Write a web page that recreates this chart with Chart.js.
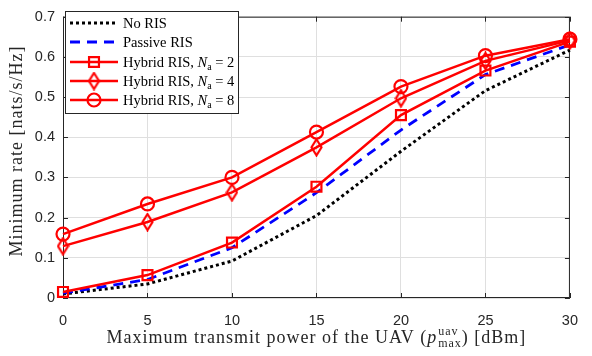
<!DOCTYPE html>
<html lang="en">
<head>
<meta charset="UTF-8">
<title>Minimum rate vs UAV power</title>
<script src="https://cdn.jsdelivr.net/npm/chart.js@4.4.1/dist/chart.umd.min.js"></script>
<style>
  html, body { margin: 0; padding: 0; background: #fff; }
  #wrap { width: 592px; height: 356px; }
</style>
</head>
<body>
<div id="wrap"><canvas id="c" width="592" height="356"></canvas></div>
<script>
// data
const powers = [0, 5, 10, 15, 20, 25, 30];
const noRis = [0.010, 0.035, 0.092, 0.205, 0.365, 0.516, 0.617];
const passiveRis = [0.012, 0.046, 0.125, 0.262, 0.418, 0.556, 0.630];
const hybridNa2 = [0.015, 0.057, 0.138, 0.277, 0.455, 0.566, 0.638];
const hybridNa4 = [0.129, 0.189, 0.263, 0.375, 0.497, 0.590, 0.641];
const hybridNa8 = [0.159, 0.234, 0.300, 0.413, 0.526, 0.603, 0.644];
const yTicks = [0, 0.1, 0.2, 0.3, 0.4, 0.5, 0.6, 0.7];
const xTicks = [0, 5, 10, 15, 20, 25, 30];
const legendNames = ['No RIS', 'Passive RIS', 'Hybrid RIS, ', 'Hybrid RIS, ', 'Hybrid RIS, '];
const naValues = [null, null, 2, 4, 8];

const RED = '#ff0000';
const SERIF = '"Liberation Serif", "DejaVu Serif", serif';
const SANS = '"Liberation Sans", Arial, sans-serif';
const AXIS = '#262626';

function pts(arr) { return powers.map((p, i) => ({ x: p, y: arr[i] })); }

// tall MATLAB-like diamond marker
function makeDiamond(w, h) {
  const c = document.createElement('canvas');
  c.width = w; c.height = h;
  const g = c.getContext('2d');
  g.strokeStyle = RED; g.lineWidth = 2.2;
  g.beginPath();
  g.moveTo(w / 2, 1.5); g.lineTo(w - 1.5, h / 2);
  g.lineTo(w / 2, h - 1.5); g.lineTo(1.5, h / 2);
  g.closePath(); g.stroke();
  return c;
}
const diamond = makeDiamond(13, 19);

// draws a list of [text, font, dy] runs, returns total width
function runs(ctx, list, x, y, measureOnly) {
  let w = 0;
  list.forEach(r => {
    ctx.font = r[1];
    if (!measureOnly) ctx.fillText(r[0], x + w, y + (r[2] || 0));
    w += ctx.measureText(r[0]).width + (r[3] || 0);
  });
  return w;
}

const boxPlugin = {
  id: 'box',
  beforeDatasetsDraw(chart) {
    const { ctx, chartArea: a, scales } = chart;
    ctx.save();
    ctx.strokeStyle = AXIS; ctx.lineWidth = 1;
    ctx.strokeRect(a.left + 0.5, a.top + 0.5, a.right - a.left - 1, a.bottom - a.top - 1);
    ctx.beginPath();
    xTicks.forEach(v => {
      const x = Math.round(scales.x.getPixelForValue(v)) + 0.5;
      ctx.moveTo(x, a.bottom); ctx.lineTo(x, a.bottom - 5);
      ctx.moveTo(x, a.top); ctx.lineTo(x, a.top + 5);
    });
    yTicks.forEach(v => {
      const y = Math.round(scales.y.getPixelForValue(v)) + 0.5;
      ctx.moveTo(a.left, y); ctx.lineTo(a.left + 5, y);
      ctx.moveTo(a.right, y); ctx.lineTo(a.right - 5, y);
    });
    ctx.stroke();
    ctx.restore();
  },
  afterDraw(chart) {
    const { ctx, chartArea: a } = chart;
    ctx.save();
    ctx.fillStyle = AXIS; ctx.textBaseline = 'alphabetic'; ctx.textAlign = 'left';
    ctx.letterSpacing = '1px';

    // x axis title with p^uav_max
    const big = '18px ' + SERIF, small = '12px ' + SERIF;
    const head = [['Maximum transmit power of the UAV (', big], ['p', 'italic ' + big, 0, 1]];
    const tail = [[') [dBm]', big]];
    const w0 = runs(ctx, head, 0, 0, true);
    ctx.font = small;
    const ws = Math.max(ctx.measureText('uav').width, ctx.measureText('max').width);
    const w3 = runs(ctx, tail, 0, 0, true);
    let x = (a.left + a.right) / 2 - (w0 + ws + w3) / 2;
    const by = 343;
    runs(ctx, head, x, by); x += w0;
    ctx.font = small;
    ctx.fillText('uav', x, by - 8); ctx.fillText('max', x, by + 4); x += ws;
    runs(ctx, tail, x, by);

    // y axis title
    ctx.save();
    ctx.translate(22, 151);
    ctx.rotate(-Math.PI / 2);
    ctx.font = big; ctx.textAlign = 'center';
    ctx.fillText('Minimum rate [nats/s/Hz]', 0, 0);
    ctx.restore();

    // legend box
    ctx.letterSpacing = '0px';
    const lx = 65, ly = 11, lw = 173, lh = 102;
    ctx.fillStyle = '#fff';
    ctx.fillRect(lx, ly, lw, lh);
    ctx.strokeStyle = AXIS; ctx.lineWidth = 1;
    ctx.strokeRect(lx + 0.5, ly + 0.5, lw, lh);
    const rows = [23, 42, 62, 81, 100];
    chart.data.datasets.forEach((ds, i) => {
      const y = rows[i];
      ctx.save();
      ctx.strokeStyle = ds.borderColor; ctx.lineWidth = ds.borderWidth;
      ctx.setLineDash(ds.borderDash || []);
      ctx.beginPath(); ctx.moveTo(70, y); ctx.lineTo(118, y); ctx.stroke();
      ctx.restore();
      if (ds.pointStyle && ds.pointRadius) {
        ctx.save();
        ctx.fillStyle = 'rgba(0,0,0,0)';
        ctx.strokeStyle = RED; ctx.lineWidth = ds.pointBorderWidth;
        Chart.helpers.drawPoint(ctx, {
          pointStyle: ds.pointStyle, radius: ds.pointRadius, borderWidth: ds.pointBorderWidth,
          rotation: 0
        }, 94, y);
        ctx.restore();
      }
      ctx.fillStyle = '#000';
      const list = [[legendNames[i], '14.5px ' + SERIF]];
      if (naValues[i] !== null) {
        list.push(['N', 'italic 14.5px ' + SERIF]);
        list.push(['a', '10px ' + SERIF, 3]);
        list.push([' = ' + naValues[i], '14.5px ' + SERIF]);
      }
      runs(ctx, list, 123, y + 5);
    });
    ctx.restore();
  }
};

new Chart(document.getElementById('c'), {
  type: 'line',
  data: {
    datasets: [
      { data: pts(noRis), borderColor: '#000', borderWidth: 3, borderDash: [3, 3],
        pointRadius: 0, order: 4 },
      { data: pts(passiveRis), borderColor: '#0000ff', borderWidth: 2.8, borderDash: [10, 7],
        pointRadius: 0, order: 3 },
      { data: pts(hybridNa2), borderColor: RED, borderWidth: 2.5, pointStyle: 'rect',
        pointRadius: 7, pointBorderWidth: 2.2, pointBorderColor: RED, pointBackgroundColor: 'transparent', order: 2 },
      { data: pts(hybridNa4), borderColor: RED, borderWidth: 2.5, pointStyle: diamond,
        pointRadius: 7, pointBorderWidth: 2.2, pointBorderColor: RED, pointBackgroundColor: 'transparent', order: 1 },
      { data: pts(hybridNa8), borderColor: RED, borderWidth: 2.5, pointStyle: 'circle',
        pointRadius: 6.5, pointBorderWidth: 2.2, pointBorderColor: RED, pointBackgroundColor: 'transparent', order: 0 }
    ]
  },
  options: {
    responsive: false,
    animation: false,
    clip: false,
    layout: { padding: { top: 5, right: 7, left: 0, bottom: 0 } },
    plugins: { legend: { display: false }, tooltip: { enabled: false } },
    elements: { line: { tension: 0, fill: false } },
    scales: {
      x: {
        type: 'linear', min: 0, max: 30,
        afterBuildTicks: s => { s.ticks = xTicks.map(v => ({ value: v })); },
        afterFit: s => { s.height = 58; },
        grid: { color: '#dfdfdf', drawTicks: false },
        border: { display: false },
        ticks: { padding: 14, color: AXIS, font: { family: SANS, size: 14.5 } }
      },
      y: {
        min: 0, max: 0.7,
        afterBuildTicks: s => { s.ticks = yTicks.map(v => ({ value: v })); },
        afterFit: s => { s.width = 63; },
        grid: { color: '#dfdfdf', drawTicks: false },
        border: { display: false },
        ticks: { padding: 8, color: AXIS, font: { family: SANS, size: 14.5 },
          callback: v => v === 0 ? '0' : v.toFixed(1) }
      }
    }
  },
  plugins: [boxPlugin]
});
</script>
</body>
</html>
